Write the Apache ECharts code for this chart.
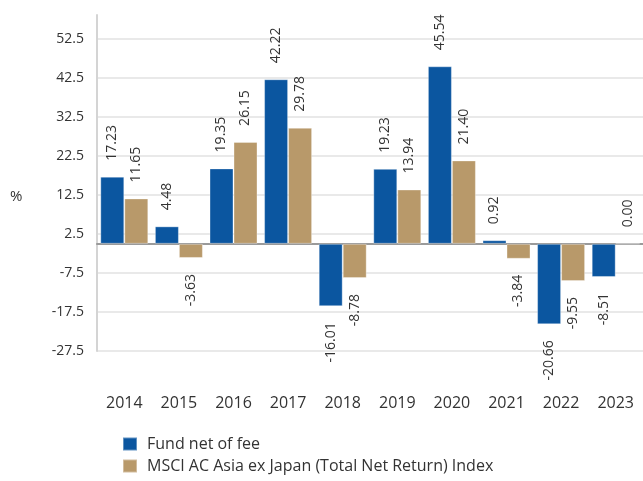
<!DOCTYPE html>
<html>
<head>
<meta charset="utf-8" />
<title>Annual performance</title>
<script src="https://cdn.jsdelivr.net/npm/echarts@6/dist/echarts.min.js"></script>
<style>
  html, body { margin: 0; padding: 0; background: #fff; }
  #main { width: 643px; height: 481px; }
</style>
</head>
<body>
<div id="main"></div>
<script>
// data
var years = ['2014', '2015', '2016', '2017', '2018', '2019', '2020', '2021', '2022', '2023'];
var fundValues = [17.23, 4.48, 19.35, 42.22, -16.01, 19.23, 45.54, 0.92, -20.66, -8.51];
var indexValues = [11.65, -3.63, 26.15, 29.78, -8.78, 13.94, 21.40, -3.84, -9.55, 0.00];
var seriesNames = ['Fund net of fee', 'MSCI AC Asia ex Japan (Total Net Return) Index'];

var font = "'Open Sans', 'Noto Sans', sans-serif";

// label above for positive, below for negative (rotated)
function withLabels(values) {
  return values.map(function (v) {
    var neg = v < 0;
    return {
      value: v,
      label: {
        show: true,
        position: neg ? 'bottom' : 'top',
        rotate: 90,
        align: neg ? 'right' : 'left',
        verticalAlign: 'middle',
        distance: 16,
        color: '#333',
        fontSize: 14,
        fontFamily: font,
        formatter: function (p) { return p.value.toFixed(2); }
      }
    };
  });
}

var chart = echarts.init(document.getElementById('main'));
chart.setOption({
  animation: false,
  textStyle: { fontFamily: font },
  grid: { left: 97, right: 0, top: 15, bottom: 130 },
  graphic: [{
    type: 'text', left: 10, top: 189,
    style: { text: '%', fontSize: 15, fill: '#333', fontFamily: font }
  }],
  legend: {
    orient: 'vertical', left: 122, top: 436,
    width: 500, height: 100, padding: 0,
    itemWidth: 14, itemHeight: 13, itemGap: 6,
    icon: 'rect',
    textStyle: { fontSize: 16, color: '#333', fontFamily: font, padding: [0, 0, 0, 5] },
    data: seriesNames
  },
  xAxis: [{
    type: 'category',
    data: years,
    axisLine: { onZero: true, lineStyle: { color: '#9a9a9a', width: 2 } },
    axisTick: { show: false },
    axisLabel: { show: false }
  }, {
    type: 'category',
    data: years,
    position: 'bottom',
    axisLine: { show: false, onZero: false },
    axisTick: { show: false },
    axisLabel: { color: '#333', fontSize: 16, margin: 44, fontFamily: font }
  }],
  yAxis: {
    type: 'value',
    min: -27.5,
    max: 58.7,
    interval: 10,
    axisLine: { show: true, lineStyle: { color: '#d4d4d4', width: 2 } },
    axisTick: { show: false },
    axisLabel: { color: '#333', fontSize: 14, margin: 13, showMaxLabel: false, fontFamily: font },
    splitLine: {
      lineStyle: {
        color: ['#e2e2e2', '#e2e2e2', '#e2e2e2', '#e2e2e2', '#e2e2e2',
                '#e2e2e2', '#e2e2e2', '#e2e2e2', '#e2e2e2', 'rgba(0,0,0,0)'],
        width: 1.5
      }
    }
  },
  series: [{
    name: seriesNames[0],
    type: 'bar',
    barWidth: 24,
    barGap: 0,
    itemStyle: { color: '#0b56a0', borderColor: 'rgba(255,255,255,0.35)', borderWidth: 1 },
    data: withLabels(fundValues)
  }, {
    name: seriesNames[1],
    type: 'bar',
    barWidth: 24,
    barGap: 0,
    itemStyle: { color: '#b8996a', borderColor: 'rgba(255,255,255,0.35)', borderWidth: 1 },
    data: withLabels(indexValues)
  }]
});
</script>
</body>
</html>
